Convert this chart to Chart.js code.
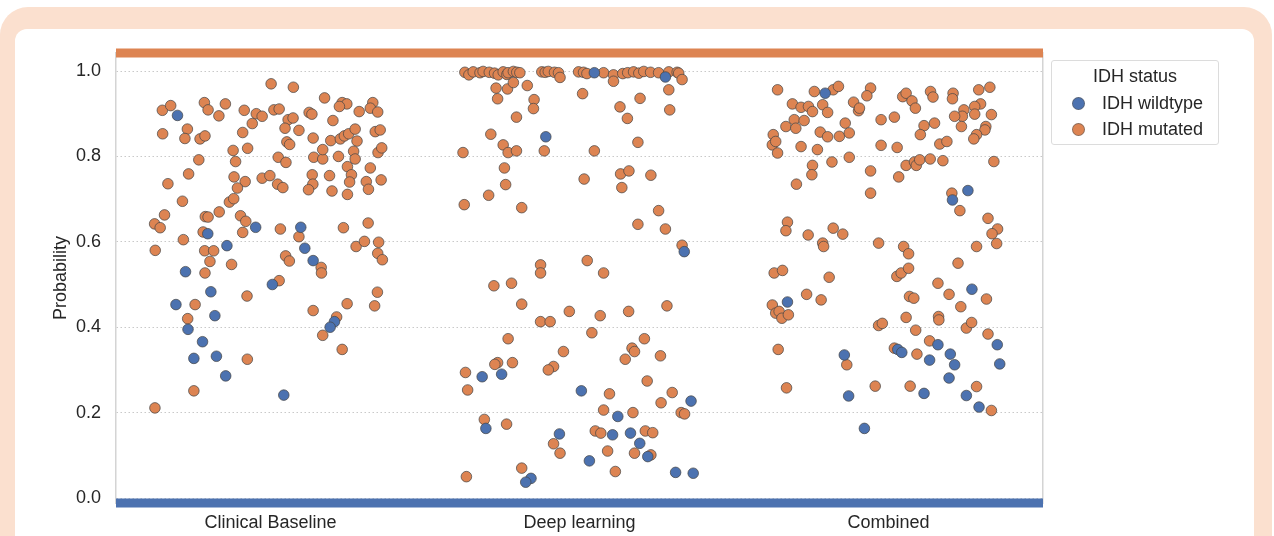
<!DOCTYPE html>
<html>
<head>
<meta charset="utf-8">
<script src="https://cdn.jsdelivr.net/npm/chart.js@4.4.1/dist/chart.umd.min.js"></script>
<style>
  html, body { margin: 0; padding: 0; background: #fff; }
  body { width: 1274px; height: 536px; position: relative; overflow: hidden;
         font-family: "Liberation Sans", Arial, sans-serif; color: #262626; }
  .frame { position: absolute; left: 0; top: 7px; width: 1272px; height: 580px;
           background: #fbe0cf; border-radius: 28px; }
  .panel { position: absolute; left: 15px; top: 29px; width: 1239px; height: 560px;
           background: #fff; border-radius: 12px; }
  #chart { position: absolute; left: 0; top: 0; }
  .legend { position: absolute; left: 1051px; top: 60px; width: 166px; height: 83px;
            border: 1px solid #dcdcdc; border-radius: 3px; background: #fff; font-size: 18px; }
  .legend .title { position: absolute; left: 0; width: 100%; top: 5px; text-align: center; }
  .legend .item { position: absolute; left: 20px; height: 22px; line-height: 22px; }
  .legend .dot { display: inline-block; width: 11px; height: 11px; border-radius: 50%;
                 border: 1px solid rgba(90,90,90,0.6); vertical-align: -1px; margin-right: 17px; }
</style>
</head>
<body>
<div class="frame"></div>
<div class="panel"></div>
<canvas id="chart" width="1274" height="536"></canvas>
<div class="legend">
  <div class="title">IDH status</div>
  <div class="item" style="top:31px"><span class="dot" style="background:#4c72b0"></span>IDH wildtype</div>
  <div class="item" style="top:57px"><span class="dot" style="background:#dd8452"></span>IDH mutated</div>
</div>
<script>
// categories and axis ticks
const categories = ["Clinical Baseline", "Deep learning", "Combined"];
const yTicks = [0, 0.2, 0.4, 0.6, 0.8, 1.0];
const yMin = -0.0117, yMax = 1.0422;

// each point: [jitter from category centre, predicted probability]
const clinicalWildtype = [
  [-0.301,0.896],[-0.048,0.634],[0.098,0.634],[-0.203,0.619],[-0.141,0.591],[0.111,0.585],
  [0.138,0.556],[-0.275,0.530],[0.006,0.500],[-0.193,0.483],[-0.306,0.453],[-0.180,0.427],
  [-0.267,0.395],[0.207,0.413],[0.193,0.400],[-0.220,0.366],[-0.248,0.327],[-0.175,0.332],
  [-0.145,0.286],[0.043,0.241]
];
const clinicalMutated = [
  [0.002,0.970],[0.074,0.962],[0.175,0.937],[0.232,0.926],[0.247,0.923],[0.331,0.926],
  [-0.350,0.908],[-0.323,0.919],[-0.214,0.926],[-0.202,0.909],[-0.167,0.895],[-0.146,0.923],
  [-0.085,0.908],[-0.046,0.900],[-0.027,0.894],[0.011,0.909],[0.028,0.911],[-0.059,0.877],
  [0.057,0.886],[0.073,0.890],[0.125,0.903],[0.134,0.899],[0.223,0.917],[0.287,0.905],
  [0.323,0.913],[0.347,0.904],[0.202,0.884],[0.047,0.866],[0.092,0.861],[-0.349,0.853],
  [-0.269,0.864],[-0.277,0.842],[-0.228,0.841],[-0.212,0.848],[-0.090,0.856],[0.138,0.843],
  [0.053,0.834],[0.062,0.828],[0.195,0.837],[0.226,0.841],[0.239,0.848],[0.253,0.853],
  [0.274,0.864],[0.280,0.836],[0.339,0.858],[0.355,0.862],[-0.121,0.814],[-0.074,0.819],
  [0.025,0.798],[0.050,0.786],[0.140,0.798],[0.169,0.794],[0.169,0.816],[0.220,0.800],
  [0.269,0.812],[0.274,0.794],[0.249,0.776],[0.348,0.809],[0.360,0.820],[0.323,0.773],
  [-0.232,0.792],[-0.113,0.788],[-0.265,0.759],[-0.332,0.736],[-0.118,0.752],[-0.082,0.741],
  [-0.107,0.726],[-0.027,0.749],[-0.002,0.755],[0.023,0.735],[0.040,0.727],[0.135,0.757],
  [0.137,0.735],[0.123,0.722],[0.191,0.755],[0.199,0.719],[0.249,0.711],[0.262,0.757],
  [0.256,0.740],[0.310,0.741],[0.317,0.723],[0.358,0.745],[-0.285,0.695],[-0.133,0.693],
  [-0.119,0.701],[-0.343,0.663],[-0.375,0.642],[-0.357,0.633],[-0.211,0.659],[-0.202,0.658],
  [-0.166,0.670],[-0.097,0.661],[-0.080,0.648],[-0.090,0.622],[0.032,0.630],[0.092,0.612],
  [0.236,0.633],[0.316,0.644],[-0.218,0.623],[-0.282,0.605],[-0.373,0.580],[-0.213,0.579],
  [-0.184,0.579],[-0.196,0.554],[0.049,0.567],[0.061,0.555],[0.277,0.589],[0.304,0.601],
  [0.350,0.599],[0.347,0.573],[0.362,0.558],[-0.212,0.527],[-0.126,0.547],[0.164,0.540],
  [0.165,0.527],[0.028,0.509],[-0.076,0.473],[0.346,0.482],[-0.244,0.453],[-0.268,0.420],
  [0.138,0.439],[0.248,0.455],[0.337,0.450],[0.214,0.424],[0.169,0.381],[0.232,0.348],
  [-0.075,0.325],[-0.248,0.251],[-0.374,0.211]
];
const deepWildtype = [
  [0.048,0.996],[0.278,0.986],[-0.109,0.846],[0.339,0.577],[-0.315,0.284],[-0.252,0.290],
  [0.006,0.251],[0.361,0.227],[0.124,0.191],[-0.303,0.163],[-0.065,0.150],[0.107,0.148],
  [0.165,0.152],[0.195,0.128],[0.221,0.097],[0.032,0.087],[-0.157,0.046],[-0.174,0.037],
  [0.311,0.060],[0.368,0.058]
];
const deepMutated = [
  [-0.371,0.997],[-0.358,0.991],[-0.344,0.998],[-0.322,0.996],[-0.312,0.999],[-0.292,0.997],
  [-0.275,0.995],[-0.263,0.991],[-0.247,0.998],[-0.235,0.992],[-0.231,0.996],[-0.214,0.999],
  [-0.203,0.997],[-0.193,0.996],[-0.122,0.998],[-0.111,0.997],[-0.101,0.999],[-0.081,0.997],
  [-0.068,0.996],[-0.063,0.985],[-0.003,0.998],[0.013,0.997],[0.024,0.994],[0.078,0.996],
  [0.110,0.991],[0.110,0.976],[0.140,0.994],[0.156,0.996],[0.175,0.998],[0.192,0.995],
  [0.208,0.999],[0.230,0.997],[0.256,0.996],[0.289,0.998],[0.316,0.997],[0.321,0.995],
  [0.332,0.980],
  [-0.270,0.960],[-0.233,0.958],[-0.214,0.973],[-0.169,0.966],[-0.265,0.935],[-0.147,0.933],
  [-0.149,0.912],[-0.204,0.892],[0.010,0.947],[0.196,0.936],[0.289,0.956],[0.131,0.916],
  [0.155,0.889],[0.292,0.909],[-0.287,0.852],[-0.247,0.827],[-0.231,0.809],[-0.204,0.813],
  [-0.377,0.809],[-0.114,0.813],[0.048,0.813],[0.189,0.833],[-0.243,0.773],[-0.239,0.734],
  [-0.294,0.709],[-0.373,0.687],[-0.187,0.680],[0.015,0.747],[0.133,0.759],[0.160,0.766],
  [0.231,0.756],[0.137,0.727],[0.256,0.673],[0.189,0.641],[0.278,0.630],[0.332,0.592],
  [-0.126,0.546],[-0.126,0.527],[0.025,0.556],[0.078,0.527],[-0.277,0.497],[-0.220,0.503],
  [-0.187,0.454],[-0.033,0.437],[0.067,0.427],[0.159,0.437],[0.283,0.450],[-0.126,0.413],
  [-0.095,0.413],[0.040,0.387],[-0.231,0.373],[0.210,0.373],[-0.052,0.343],[0.170,0.351],
  [0.178,0.343],[0.148,0.325],[0.262,0.333],[-0.265,0.317],[-0.274,0.313],[-0.217,0.317],
  [-0.084,0.308],[-0.101,0.300],[-0.369,0.294],[-0.362,0.253],[0.219,0.274],[0.097,0.244],
  [0.300,0.247],[0.264,0.223],[0.078,0.206],[0.173,0.200],[0.329,0.200],[0.340,0.197],
  [-0.308,0.184],[-0.236,0.173],[0.051,0.157],[0.069,0.152],[0.213,0.157],[0.237,0.153],
  [-0.084,0.127],[-0.063,0.105],[0.091,0.110],[0.178,0.105],[0.231,0.101],[-0.187,0.070],
  [-0.366,0.050],[0.116,0.062]
];
const combinedWildtype = [
  [-0.205,0.948],[0.207,0.698],[0.257,0.720],[0.270,0.489],[-0.327,0.459],[0.352,0.359],
  [0.160,0.359],[0.030,0.348],[0.043,0.341],[0.200,0.337],[0.133,0.323],[0.214,0.312],
  [0.360,0.314],[-0.143,0.335],[0.196,0.281],[-0.129,0.239],[0.115,0.245],[0.252,0.240],
  [0.293,0.213],[-0.078,0.163]
];
const combinedMutated = [
  [-0.359,0.956],[-0.240,0.952],[-0.179,0.956],[-0.162,0.964],[-0.058,0.960],[-0.070,0.942],
  [-0.113,0.927],[-0.097,0.907],[-0.094,0.913],[-0.311,0.923],[-0.283,0.915],[-0.259,0.917],
  [-0.213,0.921],[-0.246,0.905],[-0.197,0.903],[-0.332,0.870],[-0.305,0.886],[-0.300,0.866],
  [-0.273,0.884],[-0.373,0.851],[-0.376,0.827],[-0.365,0.835],[-0.359,0.808],[-0.140,0.878],
  [-0.221,0.857],[-0.197,0.846],[-0.159,0.847],[-0.127,0.855],[-0.283,0.823],[-0.230,0.816],
  [-0.024,0.886],[0.019,0.892],[-0.024,0.826],[0.028,0.821],[0.046,0.940],[0.057,0.948],
  [0.076,0.930],[0.087,0.913],[0.136,0.952],[0.144,0.939],[0.209,0.948],[0.207,0.935],
  [0.292,0.956],[0.328,0.962],[0.298,0.923],[0.279,0.917],[0.244,0.909],[0.239,0.894],
  [0.214,0.894],[0.279,0.899],[0.333,0.898],[0.115,0.872],[0.149,0.878],[0.103,0.851],
  [0.236,0.870],[0.315,0.870],[0.312,0.862],[0.285,0.851],[0.276,0.841],[0.166,0.829],
  [0.189,0.835],[-0.246,0.779],[-0.248,0.757],[-0.183,0.787],[-0.127,0.798],[-0.058,0.766],
  [-0.298,0.735],[-0.058,0.714],[0.033,0.752],[0.057,0.779],[0.084,0.787],[0.090,0.779],
  [0.101,0.792],[0.135,0.794],[0.176,0.790],[0.341,0.788],[0.205,0.714],[0.231,0.673],
  [0.322,0.655],[0.353,0.630],[0.335,0.619],[0.350,0.596],[0.285,0.589],[-0.327,0.646],
  [-0.332,0.626],[-0.260,0.616],[-0.179,0.632],[-0.148,0.618],[-0.213,0.597],[-0.210,0.589],
  [-0.032,0.597],[0.049,0.589],[0.065,0.572],[0.225,0.550],[-0.370,0.527],[-0.343,0.533],
  [-0.192,0.517],[0.027,0.519],[0.041,0.527],[0.065,0.538],[0.160,0.503],[0.196,0.477],
  [0.317,0.466],[-0.265,0.477],[-0.218,0.464],[0.068,0.472],[0.082,0.468],[-0.376,0.452],
  [-0.365,0.433],[-0.354,0.437],[-0.345,0.421],[-0.324,0.429],[0.234,0.448],[0.057,0.423],
  [0.162,0.425],[0.163,0.417],[-0.032,0.404],[-0.020,0.409],[0.088,0.393],[0.252,0.398],
  [0.269,0.411],[0.322,0.384],[-0.357,0.348],[0.133,0.368],[0.019,0.351],[0.092,0.337],
  [-0.135,0.312],[-0.330,0.258],[-0.043,0.262],[0.070,0.262],[0.285,0.261],[0.333,0.205]
];

const blue = '#4c72b0';
const orange = '#dd8452';
const textColor = '#262626';
const font = { family: '"Liberation Sans", Arial, sans-serif', size: 18 };

// place each jittered point at its category position
function toPoints(groups) {
  const pts = [];
  groups.forEach((rows, i) => rows.forEach(r => pts.push({ x: i + r[0], y: r[1] })));
  return pts;
}

const pointStyle = {
  pointRadius: 5.3,
  pointBorderWidth: 0.9,
  pointBorderColor: 'rgba(70,70,70,0.8)',
  showLine: false
};

const data = {
  datasets: [
    Object.assign({
      label: 'IDH wildtype',
      data: toPoints([clinicalWildtype, deepWildtype, combinedWildtype]),
      backgroundColor: blue
    }, pointStyle),
    Object.assign({
      label: 'IDH mutated',
      data: toPoints([clinicalMutated, deepMutated, combinedMutated]),
      backgroundColor: orange
    }, pointStyle),
    {
      // thick top spine
      type: 'line',
      data: [{ x: -0.5, y: yMax }, { x: 2.5, y: yMax }],
      borderColor: orange, borderWidth: 9, pointRadius: 0, clip: false
    },
    {
      // thick bottom spine
      type: 'line',
      data: [{ x: -0.5, y: yMin }, { x: 2.5, y: yMin }],
      borderColor: blue, borderWidth: 9, pointRadius: 0, clip: false
    }
  ]
};

const ctx = document.getElementById('chart').getContext('2d');
new Chart(ctx, {
  type: 'scatter',
  data: data,
  options: {
    responsive: false,
    animation: false,
    layout: { padding: { left: 0, right: 231, top: 53, bottom: 0 } },
    plugins: { legend: { display: false }, tooltip: { enabled: false } },
    scales: {
      x: {
        type: 'linear', min: -0.5, max: 2.5,
        afterBuildTicks: s => { s.ticks = categories.map((c, i) => ({ value: i })); },
        afterFit: s => { s.height = 33; },
        ticks: { callback: v => categories[v], font: font, color: textColor, padding: 9,
                 autoSkip: false, maxRotation: 0 },
        grid: { display: false, drawTicks: false },
        border: { display: false }
      },
      y: {
        min: yMin, max: yMax,
        afterBuildTicks: s => { s.ticks = yTicks.map(v => ({ value: v })); },
        afterFit: s => { s.width = 116; },
        ticks: { callback: v => v.toFixed(1), font: font, color: textColor, padding: 15 },
        grid: { color: '#c9c9c9', lineWidth: 1, drawTicks: false },
        border: { display: true, color: '#d4d4d4', width: 1.5, dash: [1.5, 2.5] },
        title: { display: true, text: 'Probability', font: font, color: textColor,
                 padding: { top: 50, bottom: 0 } }
      },
      y2: {
        position: 'right', min: yMin, max: yMax,
        afterFit: s => { s.width = 0; },
        ticks: { display: false },
        grid: { display: false, drawTicks: false },
        border: { display: true, color: '#d4d4d4', width: 1.5 }
      }
    }
  }
});
</script>
</body>
</html>
